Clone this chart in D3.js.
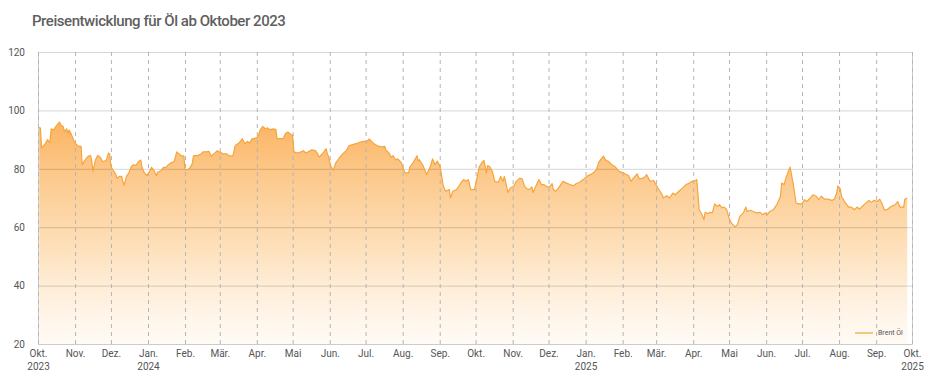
<!DOCTYPE html>
<html>
<head>
<meta charset="utf-8">
<script src="https://cdn.jsdelivr.net/npm/d3@7"></script>
<style>
  body { margin: 0; background: #fff; }
  text { font-family: Roboto, "Noto Sans", sans-serif; }
</style>
</head>
<body>
<div id="chart"></div>
<script>
// Brent Öl, Schlusskurse in USD
const dates = [
  "2023-10-02","2023-10-03","2023-10-04","2023-10-07","2023-10-09","2023-10-11","2023-10-12","2023-10-14","2023-10-16","2023-10-19",
  "2023-10-20","2023-10-22","2023-10-23","2023-10-25","2023-10-26","2023-10-27","2023-10-29","2023-10-31","2023-11-02","2023-11-04",
  "2023-11-06","2023-11-07","2023-11-09","2023-11-12","2023-11-14","2023-11-15","2023-11-16","2023-11-18","2023-11-20","2023-11-22",
  "2023-11-24","2023-11-27","2023-11-29","2023-11-30","2023-12-01","2023-12-03","2023-12-05","2023-12-06","2023-12-08","2023-12-10",
  "2023-12-11","2023-12-12","2023-12-14","2023-12-16","2023-12-18","2023-12-20","2023-12-22","2023-12-24","2023-12-26","2023-12-27",
  "2023-12-29","2023-12-31","2024-01-02","2024-01-04","2024-01-06","2024-01-08","2024-01-09","2024-01-12","2024-01-14","2024-01-16",
  "2024-01-18","2024-01-21","2024-01-23","2024-01-25","2024-01-27","2024-01-29","2024-01-31","2024-02-01","2024-02-03","2024-02-05",
  "2024-02-07","2024-02-08","2024-02-12","2024-02-14","2024-02-16","2024-02-19","2024-02-21","2024-02-23","2024-02-25","2024-02-28",
  "2024-03-01","2024-03-04","2024-03-07","2024-03-09","2024-03-12","2024-03-14","2024-03-17","2024-03-20","2024-03-22","2024-03-24",
  "2024-03-26","2024-03-28","2024-03-31","2024-04-02","2024-04-04","2024-04-06","2024-04-08","2024-04-10","2024-04-12","2024-04-15",
  "2024-04-17","2024-04-18","2024-04-20","2024-04-23","2024-04-25","2024-04-27","2024-04-29","2024-05-01","2024-05-02","2024-05-05",
  "2024-05-08","2024-05-10","2024-05-12","2024-05-14","2024-05-17","2024-05-20","2024-05-22","2024-05-23","2024-05-25","2024-05-27",
  "2024-05-29","2024-05-30","2024-05-31","2024-06-02","2024-06-04","2024-06-06","2024-06-09","2024-06-12","2024-06-15","2024-06-17",
  "2024-06-20","2024-06-23","2024-06-26","2024-06-29","2024-07-02","2024-07-04","2024-07-06","2024-07-08","2024-07-11","2024-07-14",
  "2024-07-17","2024-07-18","2024-07-21","2024-07-22","2024-07-24","2024-07-26","2024-07-28","2024-07-31","2024-08-01","2024-08-03",
  "2024-08-06","2024-08-07","2024-08-10","2024-08-13","2024-08-14","2024-08-15","2024-08-18","2024-08-20","2024-08-21","2024-08-24",
  "2024-08-26","2024-08-28","2024-08-30","2024-09-01","2024-09-02","2024-09-04","2024-09-06","2024-09-09","2024-09-10","2024-09-12",
  "2024-09-15","2024-09-17","2024-09-19","2024-09-21","2024-09-23","2024-09-25","2024-09-27","2024-09-30","2024-10-02","2024-10-04",
  "2024-10-06","2024-10-08","2024-10-09","2024-10-10","2024-10-11","2024-10-13","2024-10-15","2024-10-17","2024-10-20","2024-10-22",
  "2024-10-24","2024-10-25","2024-10-26","2024-10-28","2024-10-30","2024-11-02","2024-11-04","2024-11-07","2024-11-09","2024-11-11",
  "2024-11-13","2024-11-15","2024-11-17","2024-11-18","2024-11-21","2024-11-23","2024-11-25","2024-11-27","2024-11-30","2024-12-02",
  "2024-12-04","2024-12-05","2024-12-07","2024-12-10","2024-12-13","2024-12-16","2024-12-19","2024-12-22","2024-12-24","2024-12-27",
  "2024-12-30","2025-01-02","2025-01-05","2025-01-08","2025-01-10","2025-01-12","2025-01-14","2025-01-16","2025-01-18","2025-01-20",
  "2025-01-23","2025-01-26","2025-01-29","2025-02-02","2025-02-06","2025-02-08","2025-02-10","2025-02-13","2025-02-15","2025-02-18",
  "2025-02-20","2025-02-21","2025-02-24","2025-02-27","2025-03-01","2025-03-03","2025-03-06","2025-03-07","2025-03-10","2025-03-12",
  "2025-03-15","2025-03-17","2025-03-20","2025-03-23","2025-03-26","2025-03-29","2025-03-31","2025-04-03","2025-04-04","2025-04-06",
  "2025-04-08","2025-04-10","2025-04-11","2025-04-13","2025-04-15","2025-04-17","2025-04-19","2025-04-21","2025-04-23","2025-04-25",
  "2025-04-27","2025-04-29","2025-05-01","2025-05-03","2025-05-06","2025-05-08","2025-05-10","2025-05-13","2025-05-15","2025-05-16",
  "2025-05-19","2025-05-21","2025-05-24","2025-05-27","2025-05-29","2025-05-31","2025-06-02","2025-06-04","2025-06-07","2025-06-10",
  "2025-06-13","2025-06-14","2025-06-16","2025-06-18","2025-06-21","2025-06-22","2025-06-24","2025-06-26","2025-06-28","2025-07-01",
  "2025-07-03","2025-07-05","2025-07-08","2025-07-10","2025-07-13","2025-07-15","2025-07-17","2025-07-20","2025-07-23","2025-07-26",
  "2025-07-28","2025-07-30","2025-07-31","2025-08-02","2025-08-03","2025-08-06","2025-08-09","2025-08-11","2025-08-14","2025-08-16",
  "2025-08-18","2025-08-21","2025-08-24","2025-08-26","2025-08-28","2025-08-30","2025-09-02","2025-09-04","2025-09-06","2025-09-08",
  "2025-09-10","2025-09-13","2025-09-15","2025-09-17","2025-09-19","2025-09-21","2025-09-24","2025-09-25","2025-09-27"
];

const prices = [
  94.2, 94.0, 87.1, 88.5, 90.0, 89.0, 93.7, 93.3, 94.5, 96.0,
  95.0, 94.5, 92.8, 93.7, 92.2, 93.3, 91.7, 89.6, 88.3, 87.7,
  87.7, 81.4, 82.8, 84.3, 84.6, 82.5, 79.1, 83.0, 84.6, 84.0,
  82.5, 82.8, 85.4, 85.0, 80.8, 79.4, 78.2, 76.8, 77.4, 77.4,
  75.7, 74.3, 77.4, 78.6, 80.8, 81.4, 81.2, 82.5, 83.0, 80.5,
  78.6, 77.7, 78.9, 80.5, 79.4, 77.6, 78.8, 79.4, 80.5, 80.5,
  81.4, 82.2, 82.5, 85.8, 85.1, 84.4, 84.4, 79.6, 79.7, 80.3,
  81.7, 84.4, 84.6, 85.0, 85.8, 85.8, 86.0, 84.3, 85.1, 86.2,
  85.7, 85.1, 85.1, 84.4, 84.4, 88.0, 88.8, 90.3, 88.5, 89.4,
  88.8, 90.3, 90.5, 91.1, 93.4, 94.5, 93.7, 94.0, 93.4, 93.7,
  93.4, 90.3, 90.3, 90.3, 92.1, 92.6, 91.9, 91.5, 85.8, 85.4,
  85.8, 86.2, 85.4, 85.8, 86.5, 86.2, 85.1, 84.0, 84.8, 85.7,
  86.9, 85.1, 84.3, 80.8, 79.5, 82.0, 83.7, 85.2, 86.3, 87.9,
  88.3, 88.6, 89.1, 89.4, 89.4, 90.2, 89.4, 88.6, 87.9, 87.5,
  87.7, 86.5, 85.2, 84.0, 84.5, 83.1, 83.4, 82.0, 80.6, 78.6,
  78.6, 80.6, 82.2, 84.5, 82.6, 83.1, 81.1, 79.1, 78.0, 80.6,
  83.4, 81.4, 82.6, 81.1, 79.1, 74.0, 72.3, 72.9, 70.0, 72.3,
  72.9, 74.0, 75.4, 76.3, 75.7, 76.3, 72.9, 72.9, 76.5, 80.6,
  82.0, 82.9, 80.8, 78.6, 81.1, 80.6, 79.1, 75.7, 75.4, 77.4,
  75.7, 77.4, 75.7, 71.9, 73.4, 74.0, 75.7, 76.8, 76.5, 74.0,
  73.1, 72.9, 73.8, 71.9, 74.6, 76.3, 74.6, 74.6, 73.8, 73.8,
  74.9, 72.9, 72.3, 73.8, 75.7, 75.1, 74.6, 74.2, 74.9, 75.4,
  76.3, 77.4, 78.0, 78.8, 79.7, 82.2, 83.4, 84.3, 82.9, 82.6,
  81.4, 80.6, 79.1, 78.5, 77.6, 75.7, 76.8, 78.3, 76.5, 76.8,
  77.4, 78.0, 75.7, 76.0, 74.5, 73.1, 71.1, 70.0, 70.8, 70.0,
  71.7, 71.1, 72.3, 73.4, 74.6, 75.1, 75.7, 76.0, 76.3, 66.0,
  64.6, 62.6, 65.1, 64.6, 65.1, 64.9, 68.0, 67.1, 67.7, 66.6,
  66.9, 66.0, 63.1, 61.4, 60.1, 60.9, 63.7, 64.9, 66.9, 65.4,
  65.8, 65.4, 64.9, 65.1, 64.3, 64.9, 64.3, 65.4, 66.0, 67.7,
  70.6, 75.1, 74.6, 77.4, 80.6, 78.5, 74.0, 68.3, 68.0, 68.0,
  69.4, 68.8, 70.0, 71.1, 70.6, 69.4, 70.6, 69.6, 69.6, 69.2,
  69.6, 71.7, 74.2, 73.1, 70.6, 68.5, 66.9, 66.9, 66.0, 66.9,
  66.2, 67.4, 68.5, 69.2, 68.5, 69.2, 68.8, 69.6, 68.0, 65.8,
  66.0, 66.9, 67.4, 67.7, 68.8, 66.9, 66.9, 69.6, 70.0
];

const monthLabels = ["Jan.", "Feb.", "Mär.", "Apr.", "Mai", "Jun.", "Jul.", "Aug.", "Sep.", "Okt.", "Nov.", "Dez."];
const yTicks = [20, 40, 60, 80, 100, 120];
const xDomain = ["2023-10-01", "2025-10-01"];
const seriesName = "Brent Öl";
const title = "Preisentwicklung für Öl ab Oktober 2023";

const WIDTH = 930;
const HEIGHT = 385;
const margin = { top: 52, right: 18, bottom: 41, left: 38 };
const innerW = WIDTH - margin.left - margin.right;
const innerH = HEIGHT - margin.top - margin.bottom;

const parse = d3.timeParse("%Y-%m-%d");
const data = dates.map((d, i) => ({ date: parse(d), value: prices[i] }));

const svg = d3.select("#chart").append("svg")
    .attr("width", WIDTH)
    .attr("height", HEIGHT);

svg.append("text")
    .attr("x", 32)
    .attr("y", 26)
    .attr("fill", "#5f5f5f")
    .style("font-size", "15px")
    .style("font-weight", 500)
    .style("letter-spacing", "-0.45px")
    .text(title);

const g = svg.append("g")
    .attr("transform", `translate(${margin.left}, ${margin.top})`);

const x = d3.scaleTime()
    .domain(xDomain.map(parse))
    .range([0, innerW]);

const y = d3.scaleLinear()
    .domain([d3.min(yTicks), d3.max(yTicks)])
    .range([innerH, 0]);

// Verlauf für die Fläche
const grad = svg.append("defs").append("linearGradient")
    .attr("id", "fillGrad")
    .attr("gradientUnits", "userSpaceOnUse")
    .attr("x1", 0).attr("x2", 0)
    .attr("y1", y(96)).attr("y2", y(20));
grad.append("stop").attr("offset", "0%").attr("stop-color", "#fbb05a").attr("stop-opacity", 0.95);
grad.append("stop").attr("offset", "55%").attr("stop-color", "#fdd4a0").attr("stop-opacity", 0.75);
grad.append("stop").attr("offset", "100%").attr("stop-color", "#fff6ec").attr("stop-opacity", 0.5);

const area = d3.area()
    .x(d => x(d.date))
    .y0(innerH)
    .y1(d => y(d.value));

const line = d3.line()
    .x(d => x(d.date))
    .y(d => y(d.value));

g.append("path")
    .datum(data)
    .attr("fill", "url(#fillGrad)")
    .attr("d", area);

// horizontale Gitterlinien und Y-Achse
g.append("g")
    .attr("class", "y-axis")
    .call(d3.axisLeft(y).tickValues(yTicks).tickSize(-innerW).tickPadding(13))
    .call(a => a.select(".domain").remove())
    .call(a => a.selectAll(".tick line")
        .attr("stroke", "#000")
        .attr("stroke-opacity", 0.16))
    .call(a => a.selectAll(".tick text")
        .attr("fill", "#555")
        .style("font-size", "10px"));

// X-Achse mit gestrichelten Monatslinien
const xAxis = g.append("g")
    .attr("class", "x-axis")
    .attr("transform", `translate(0, ${innerH})`)
    .call(d3.axisBottom(x)
        .ticks(d3.timeMonth.every(1))
        .tickSize(-innerH)
        .tickPadding(6)
        .tickFormat(d => monthLabels[d.getMonth()]));

xAxis.select(".domain")
    .attr("stroke", "#ccc");

xAxis.selectAll(".tick line")
    .attr("stroke", "#b5b5b5")
    .attr("stroke-dasharray", "4,4");

xAxis.selectAll(".tick text")
    .attr("fill", "#555")
    .style("font-size", "10px")
    .each(function(d, i, nodes) {
        if (d.getMonth() === 0 || i === 0 || i === nodes.length - 1) {
            d3.select(this).append("tspan")
                .attr("x", 0)
                .attr("dy", "1.25em")
                .text(d.getFullYear());
        }
    });

g.append("path")
    .datum(data)
    .attr("fill", "none")
    .attr("stroke", "#f6a53c")
    .attr("stroke-width", 1.2)
    .attr("stroke-linejoin", "round")
    .attr("d", line);

// Legende
const legend = g.append("g")
    .attr("transform", `translate(${innerW - 57}, ${innerH - 11})`);
legend.append("line")
    .attr("x1", 0).attr("x2", 18)
    .attr("stroke", "#f5c77e")
    .attr("stroke-width", 2);
legend.append("text")
    .attr("x", 23)
    .attr("dy", "0.35em")
    .attr("fill", "#555")
    .style("font-size", "7px")
    .text(seriesName);
</script>
</body>
</html>
